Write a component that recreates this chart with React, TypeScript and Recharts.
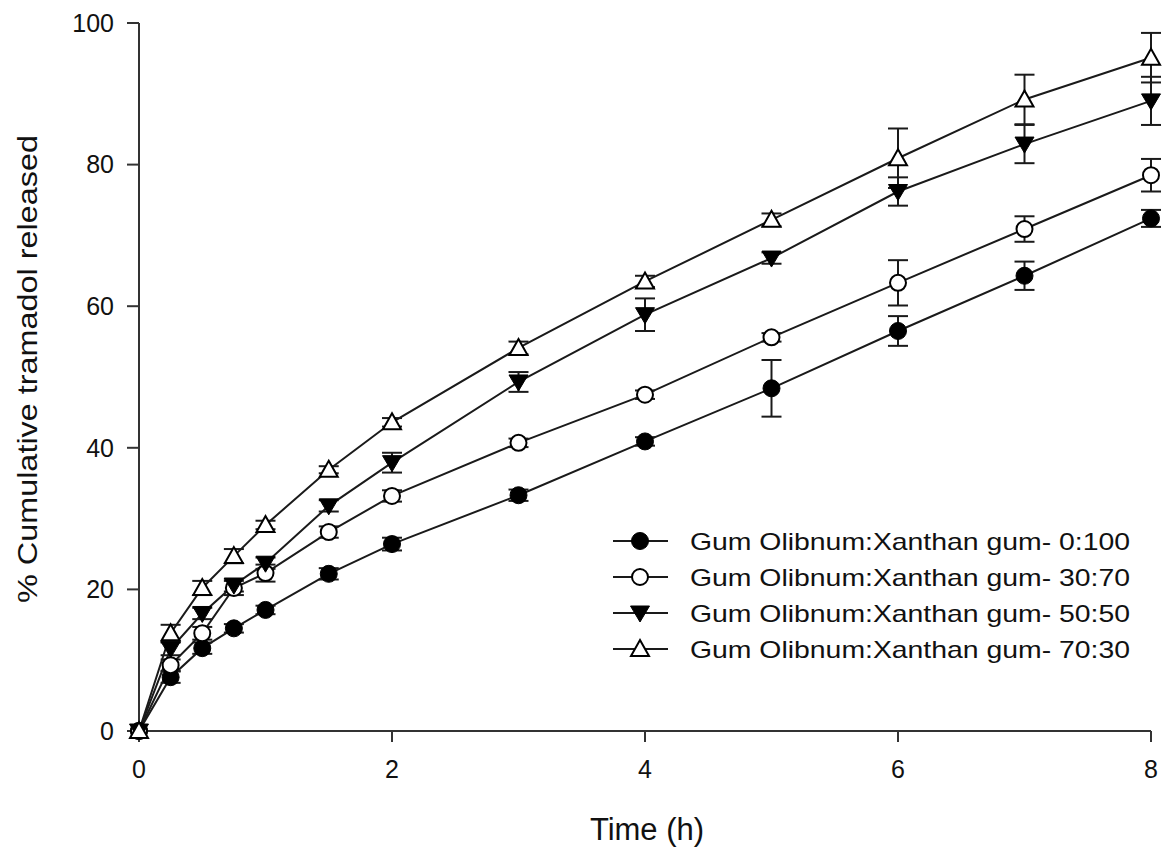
import React from "react";
import { LineChart, Line, XAxis, YAxis, ErrorBar, Legend } from "recharts";

// Tramadol release profiles
const time = [0, 0.25, 0.5, 0.75, 1, 1.5, 2, 3, 4, 5, 6, 7, 8];

const r0_100 = [0, 7.6, 11.7, 14.5, 17.1, 22.2, 26.4, 33.3, 40.9, 48.4, 56.5, 64.3, 72.4];
const e0_100 = [0, 0.8, 0.8, 0.6, 0.6, 0.8, 0.9, 0.8, 0.6, 4.0, 2.1, 2.0, 1.2];

const r30_70 = [0, 9.3, 13.8, 20.2, 22.3, 28.1, 33.2, 40.7, 47.5, 55.6, 63.3, 70.9, 78.5];
const e30_70 = [0, 0.8, 0.9, 1.0, 1.2, 0.8, 0.8, 0.6, 0.6, 0.6, 3.2, 1.8, 2.3];

const r50_50 = [0, 11.6, 16.6, 20.6, 23.7, 31.8, 37.9, 49.3, 58.8, 66.8, 76.2, 82.9, 89.0];
const e50_50 = [0, 0.9, 0.8, 0.9, 0.8, 0.8, 1.4, 1.4, 2.3, 0.8, 2.0, 2.7, 3.4];

const r70_30 = [0, 13.8, 20.2, 24.7, 29.1, 36.9, 43.6, 54.1, 63.5, 72.2, 80.9, 89.2, 95.1];
const e70_30 = [0, 1.2, 1.0, 1.0, 0.6, 0.5, 0.6, 0.9, 0.8, 0.9, 4.2, 3.5, 3.5];

const xTicks = [0, 2, 4, 6, 8];
const yTicks = [0, 20, 40, 60, 80, 100];

const data = time.map((t, i) => ({
  t,
  a: r0_100[i], aErr: e0_100[i],
  b: r30_70[i], bErr: e30_70[i],
  c: r50_50[i], cErr: e50_50[i],
  d: r70_30[i], dErr: e70_30[i],
}));

const INK = "#1a1a1a";
const FONT = "'Liberation Sans', Arial, sans-serif";

type Shape = "fcircle" | "ocircle" | "dtri" | "utri";

function Marker({ cx, cy, shape }: { cx: number; cy: number; shape: Shape }) {
  if (shape === "fcircle") return <circle cx={cx} cy={cy} r={8.5} fill="#000" stroke="#000" strokeWidth={1} />;
  if (shape === "ocircle") return <circle cx={cx} cy={cy} r={8} fill="#fff" stroke="#000" strokeWidth={2} />;
  if (shape === "dtri")
    return <path d={`M${cx - 9.5},${cy - 7}L${cx + 9.5},${cy - 7}L${cx},${cy + 9}Z`} fill="#000" stroke="#000" strokeWidth={1} />;
  return <path d={`M${cx},${cy - 9}L${cx + 9},${cy + 7}L${cx - 9},${cy + 7}Z`} fill="#fff" stroke="#000" strokeWidth={2} strokeLinejoin="miter" />;
}

const series: { key: string; err: string; name: string; shape: Shape }[] = [
  { key: "a", err: "aErr", name: "Gum Olibnum:Xanthan gum- 0:100", shape: "fcircle" },
  { key: "b", err: "bErr", name: "Gum Olibnum:Xanthan gum- 30:70", shape: "ocircle" },
  { key: "c", err: "cErr", name: "Gum Olibnum:Xanthan gum- 50:50", shape: "dtri" },
  { key: "d", err: "dErr", name: "Gum Olibnum:Xanthan gum- 70:30", shape: "utri" },
];

function LegendBox() {
  return (
    <svg width={560} height={150} style={{ display: "block" }}>
      {series.map((s, i) => {
        const y = 21 + i * 36;
        return (
          <g key={s.key}>
            <line x1={13} x2={68} y1={y} y2={y} stroke={INK} strokeWidth={2} />
            <Marker cx={40} cy={y} shape={s.shape} />
            <text x={90} y={y + 8.5} fontSize={24} fill="#111" fontFamily={FONT} textLength={440} lengthAdjust="spacingAndGlyphs">
              {s.name}
            </text>
          </g>
        );
      })}
    </svg>
  );
}

export default function App() {
  return (
    <div style={{ position: "fixed", left: 0, top: 0, width: 1163, height: 848, background: "#fff" }}>
      <LineChart width={1163} height={848} data={data} margin={{ top: 23, right: 12, left: 0, bottom: 0 }} style={{ fontFamily: FONT }}>
        <XAxis
          dataKey="t" type="number" domain={[0, 8]} ticks={xTicks} height={117}
          axisLine={{ stroke: "#333", strokeWidth: 2 }} tickLine={{ stroke: "#333", strokeWidth: 2 }}
          tickSize={11} tickMargin={18} tick={{ fontSize: 25, fill: "#111" }}
          label={{
            content: ({ viewBox }: any) => (
              <text x={viewBox.x + viewBox.width / 2 + 2} y={viewBox.y + viewBox.height - 8} textAnchor="middle" fontSize={31} fill="#111" fontFamily={FONT}>
                Time (h)
              </text>
            ),
          }}
        />
        <YAxis
          type="number" domain={[0, 100]} ticks={yTicks} width={139}
          axisLine={{ stroke: "#333", strokeWidth: 2 }} tickLine={{ stroke: "#333", strokeWidth: 2 }}
          tickSize={12} tickMargin={13} tick={{ fontSize: 25, fill: "#111" }}
          label={{
            content: ({ viewBox }: any) => {
              const x = 37;
              const y = viewBox.y + viewBox.height / 2 - 8;
              return (
                <text x={x} y={y} transform={`rotate(-90, ${x}, ${y})`} textAnchor="middle" fontSize={28} fill="#111" fontFamily={FONT} textLength={468} lengthAdjust="spacingAndGlyphs">
                  % Cumulative tramadol released
                </text>
              );
            },
          }}
        />
        <Legend layout="vertical" align="center" verticalAlign="middle" wrapperStyle={{ left: 600, top: 520, width: 560 }} content={() => <LegendBox />} />
        {series.map((s) => (
          <Line
            key={s.key}
            type="linear"
            dataKey={s.key}
            name={s.name}
            stroke={INK}
            strokeWidth={2}
            isAnimationActive={false}
            dot={(p: any) => <Marker key={`${s.key}-${p.index}`} cx={p.cx} cy={p.cy} shape={s.shape} />}
            activeDot={false}
          >
            <ErrorBar dataKey={s.err} direction="y" width={10} stroke={INK} strokeWidth={2} />
          </Line>
        ))}
      </LineChart>
    </div>
  );
}
